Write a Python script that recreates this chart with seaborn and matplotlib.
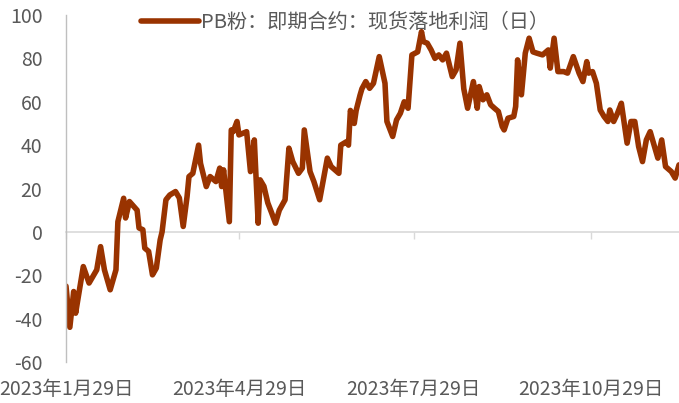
import matplotlib
matplotlib.use("Agg")
import matplotlib.pyplot as plt
import pandas as pd
import seaborn as sns

# 数据：自2023-01-29起的天数，以及现货落地利润
start = "2023-01-29"
days = [0, 2, 4, 5, 9, 12, 16, 18, 20, 23, 26, 27, 30, 31, 33, 37, 38, 40, 41, 43,
        45, 47, 49, 50, 52, 54, 57, 59, 61, 63, 64, 66, 69, 70, 73, 75, 78, 80, 81, 82,
        85, 86, 87, 89, 90, 94, 96, 98, 100, 101, 103, 105, 107, 109, 111, 114, 116, 118, 121, 123,
        124, 127, 129, 132, 136, 138, 142, 143, 146, 147, 148, 150, 151, 153, 154, 156, 158, 160, 163, 166,
        167, 170, 172, 174, 176, 178, 180, 183, 185, 186, 188, 190, 192, 194, 196, 198, 201, 203, 205, 207,
        209, 212, 214, 215, 217, 219, 221, 223, 225, 227, 228, 230, 233, 234, 235, 237, 239, 241, 243, 245,
        248, 251, 252, 254, 256, 259, 261, 264, 267, 269, 271, 272, 274, 276, 278, 280, 282, 283, 285, 287,
        289, 290, 292, 294, 296, 298, 300, 302, 304, 308, 310, 312, 315, 317, 319]
profit = [-25, -44, -27.5, -37.5, -16, -23.6, -17.5, -6.8, -17.5, -26.7, -17.5, 4.7, 15.5, 6.4, 14, 10, 1.8, 1, -7.5, -9,
          -19.8, -16.7, -3.7, 0, 14.8, 17, 18.6, 15.6, 2.5, 16.3, 25.5, 27, 40, 31.6, 20.9, 25.5, 23.2, 29.4, 20.9, 28.6,
          4.7, 47, 46.2, 50.9, 44.7, 46.2, 27.8, 42.4, 4, 24, 21, 13.4, 8.8, 4, 10, 14.8, 38.6, 32.4, 27, 29.4,
          47, 27.8, 23.2, 14.8, 34, 30.1, 27, 40, 41.6, 40, 56, 50, 56, 63, 66, 69.3, 66.2, 68.5, 80.8, 68.5,
          50.9, 44, 51.6, 54.7, 60, 57, 81.6, 83, 92.3, 87.7, 87, 83.9, 80, 81.6, 79.3, 82.4, 71.6, 74.7, 87, 66,
          57, 69.3, 57, 67, 60.9, 63.2, 58.6, 57, 55.5, 48.6, 47, 52.4, 53.2, 57.8, 79.3, 63.2, 82.4, 89.3, 83, 82.4,
          81.6, 83.9, 75.5, 89.3, 73.9, 73.9, 73.2, 80.8, 73.2, 69.3, 78.5, 73.2, 73.9, 68.5, 56.2, 53.2, 50.9, 56.2, 50.9, 54.7,
          59.3, 53.2, 40.9, 50.9, 50.9, 39.3, 32.4, 42.4, 46.2, 34, 42.4, 30.1, 27.8, 24.8, 30.9]
tick_dates = ["2023-01-29", "2023-04-29", "2023-07-29", "2023-10-29"]
tick_labels = ["2023年1月29日", "2023年4月29日", "2023年7月29日", "2023年10月29日"]
series_name = "PB粉：即期合约：现货落地利润（日）"

dates = pd.Timestamp(start) + pd.to_timedelta(days, unit="D")
df = pd.DataFrame({"date": dates, "profit": profit})

sns.set_style("white")
plt.rcParams["font.family"] = ["Noto Sans CJK SC", "DejaVu Sans"]
plt.rcParams["axes.unicode_minus"] = False

fig = plt.figure(figsize=(6.79, 4.03), dpi=100)
ax = fig.add_axes([0.0972, 0.1017, 0.9028, 0.8611])

sns.lineplot(data=df, x="date", y="profit", ax=ax, color="#993300",
             linewidth=4.0, label=series_name, legend=False)

grey = "#595959"
ax.set_ylim(-60, 100)
ax.set_yticks(range(-60, 101, 20))
ax.set_xlim(pd.Timestamp(start), pd.Timestamp("2023-12-14"))
ticks = pd.to_datetime(tick_dates)
ax.set_xticks(ticks)
ax.set_xticklabels(tick_labels)
ax.tick_params(axis="x", length=0, pad=12, labelsize=14, labelcolor=grey)
ax.tick_params(axis="y", length=0, pad=17, labelsize=14, labelcolor=grey)
ax.set_xlabel("")
ax.set_ylabel("")

for s in ["top", "right", "bottom"]:
    ax.spines[s].set_visible(False)
ax.spines["left"].set_color("#BFBFBF")
ax.spines["left"].set_linewidth(1)

# 零轴线及刻度
zero = ax.secondary_xaxis(0, transform=ax.transData)
zero.set_xticks(ticks)
zero.set_xticklabels([])
zero.tick_params(axis="x", length=5, width=1, color="#D9D9D9", direction="out")
zero.spines["bottom"].set_color("#D9D9D9")
zero.spines["bottom"].set_linewidth(1.2)

handles, labels = ax.get_legend_handles_labels()
fig.legend(handles, labels, loc="center", bbox_to_anchor=(0.508, 0.945),
           frameon=False, fontsize=14.5, labelcolor=grey,
           handlelength=2.9, handletextpad=0.1)

fig.savefig("out.png", dpi=100)
